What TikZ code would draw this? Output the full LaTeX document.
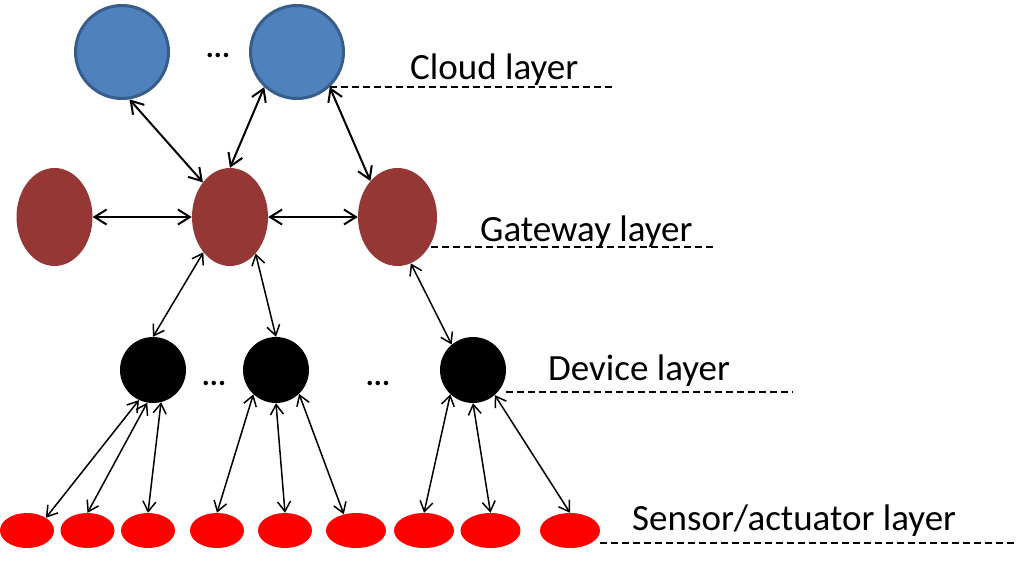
\documentclass[tikz,border=0pt]{standalone}
\usepackage{fontspec}
\setmainfont{Carlito}
\usetikzlibrary{shapes.geometric,arrows.meta}
\definecolor{cloudfill}{HTML}{4F81BD}
\definecolor{cloudline}{HTML}{385D8A}
\definecolor{gwfill}{HTML}{953735}
\begin{document}
\begin{tikzpicture}[x=1pt,y=-1pt,
  cloudnode/.style={circle,fill=cloudfill,draw=cloudline,line width=3pt,minimum size=93pt,inner sep=0},
  gwnode/.style={ellipse,fill=gwfill,minimum width=76pt,minimum height=98pt,inner sep=0},
  devnode/.style={circle,fill=black,minimum size=66pt,inner sep=0},
  sennode/.style={ellipse,fill=red,minimum width=54pt,minimum height=35pt,inner sep=0},
  sennodew/.style={sennode,minimum width=60pt},
  arrbig/.style={line width=2pt,{Straight Barb[length=12pt,width=15pt]}-{Straight Barb[length=12pt,width=15pt]}},
  arrsmall/.style={line width=1.5pt,{Straight Barb[length=10pt,width=13pt]}-{Straight Barb[length=10pt,width=13pt]}},
  layline/.style={dash pattern=on 7pt off 4pt,line width=1.3pt},
  lbl/.style={anchor=base west,inner sep=0,font=\fontsize{37}{44}\selectfont},
  dotstxt/.style={anchor=base,inner sep=0,font=\fontsize{30}{34}\selectfont\bfseries}]
\useasboundingbox (0,0) rectangle (1016,565);
% cloud
\node[cloudnode] (c1) at (122,52) {};
\node[cloudnode] (c2) at (297,52) {};
\node[dotstxt] (cdots) at (218,57) {...};
% gateway
\node[gwnode] (g1) at (54.5,217) {};
\node[gwnode] (g2) at (230,217) {};
\node[gwnode,minimum width=79pt] (g3) at (397.5,217) {};
% devices
\node[devnode] (d1) at (153,370) {};
\node[devnode] (d2) at (276,370) {};
\node[devnode] (d3) at (473,370) {};
\node[dotstxt] (ddots1) at (214,385) {...};
\node[dotstxt] (ddots2) at (378,385) {...};
% sensors
\node[sennode] (s1) at (27,530.5) {};
\node[sennode] (s2) at (87.5,530.5) {};
\node[sennode] (s3) at (148,530.5) {};
\node[sennode] (s4) at (217,530.5) {};
\node[sennode] (s5) at (285,530.5) {};
\node[sennodew] (s6) at (356,530.5) {};
\node[sennodew] (s7) at (424,530.5) {};
\node[sennodew] (s8) at (490.5,530.5) {};
\node[sennodew] (s9) at (570,530.5) {};
% labels
\node[lbl] (tc) at (410,79) {Cloud layer};
\node[lbl] (tg) at (480,241) {Gateway layer};
\node[lbl] (td) at (548,380) {Device layer};
\node[lbl] (ts) at (632,530) {Sensor/actuator layer};
% dashed layer lines
\coordinate (cl) at (615,87);
\coordinate (gl) at (717,247);
\coordinate (dl) at (793,392);
\coordinate (sl) at (1016,543);
\draw[layline] (c2.313) -- (c2.313 -| cl);
\draw[layline] (g3.east |- gl) ++(-6,0) coordinate (gs) -- (gl);
\draw[layline] (d3.east |- dl) -- (dl);
\draw[layline] (s9.east |- sl) -- (sl);
% cloud - gateway
\draw[arrbig] (c1.279) -- (g2.128);
\draw[arrbig] (c2.227) -- (g2.north);
\draw[arrbig] (c2.313) -- (g3.127);
% gateway - gateway
\draw[arrbig] (g1.east) -- (g2.west);
\draw[arrbig] (g2.east) -- (g3.west);
% gateway - device
\draw[arrsmall] (g2.233) -- (d1.north);
\draw[arrsmall] (g2.305) -- (d2.north);
\draw[arrsmall] (g3.286) -- (d3.130);
% device - sensor
\draw[arrsmall] (d1.245) -- (s1.34);
\draw[arrsmall] (d1.260) -- (s2.north);
\draw[arrsmall] (d1.284) -- (s3.north);
\draw[arrsmall] (d2.227) -- (s4.north);
\draw[arrsmall] (d2.south) -- (s5.north);
\draw[arrsmall] (d2.314) -- (s6.127);
\draw[arrsmall] (d3.227) -- (s7.north);
\draw[arrsmall] (d3.south) -- (s8.north);
\draw[arrsmall] (d3.311) -- (s9.north);
\end{tikzpicture}
\end{document}
